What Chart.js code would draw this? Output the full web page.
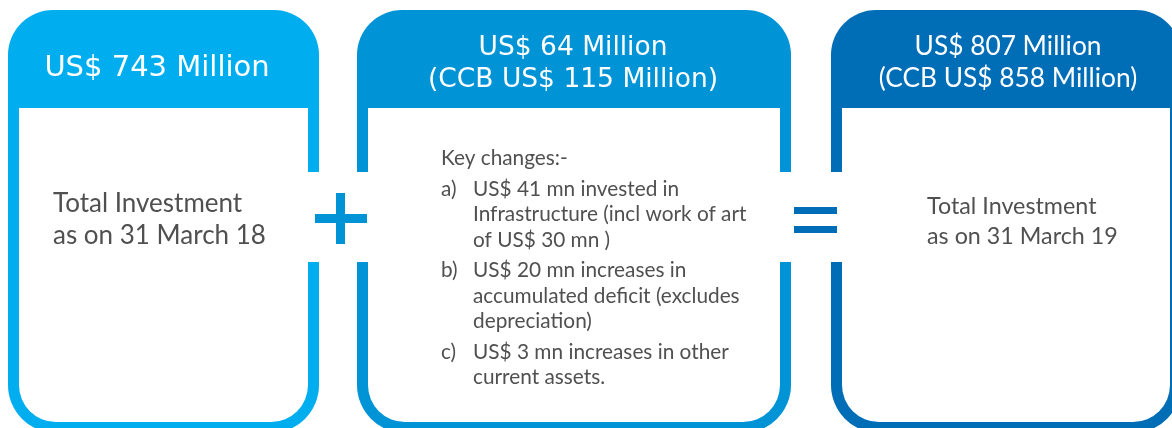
<!DOCTYPE html>
<html>
<head>
<meta charset="utf-8">
<script src="https://cdn.jsdelivr.net/npm/chart.js@4"></script>
<style>
html,body{margin:0;padding:0;background:#fff;}
#wrap{width:1172px;height:428px;position:relative;}
</style>
</head>
<body>
<div id="wrap"><canvas id="c" width="1172" height="428"></canvas></div>
<script>
// ---- data ----
const categories = ['Total Investment as on 31 March 18', 'Movement during the year', 'Total Investment as on 31 March 19'];
const investmentUSDmn = [743, 64, 807];
const ccbUSDmn = [null, 115, 858];
const bodyLines1 = ['Total Investment', 'as on 31 March 18'];
const bodyLines3 = ['Total Investment', 'as on 31 March 19'];
const keyChangesTitle = 'Key changes:-';
const keyChangeLabels = ['a)', 'b)', 'c)'];
const keyChangeLines = [
  ['US$ 41 mn invested in', 'Infrastructure (incl work of art', 'of US$ 30 mn )'],
  ['US$ 20 mn increases in', 'accumulated deficit (excludes', 'depreciation)'],
  ['US$ 3 mn increases in other', 'current assets.']
];

// ---- layout / style ----
const colors = ['#00AEEF', '#0094D6', '#006DB7'];
const textGray = '#505050';
const boxes = [
  {x0: 8, x1: 319},
  {x0: 357, x1: 791},
  {x0: 831, x1: 1181}
];

function headerText(i) {
  const lines = ['US$ ' + investmentUSDmn[i] + ' Million'];
  if (ccbUSDmn[i] != null) lines.push('(CCB US$ ' + ccbUSDmn[i] + ' Million)');
  return lines;
}

function roundPath(ctx, x, y, w, h, rt, rb) {
  ctx.beginPath();
  ctx.moveTo(x + rt, y);
  ctx.lineTo(x + w - rt, y);
  ctx.arcTo(x + w, y, x + w, y + rt, rt);
  ctx.lineTo(x + w, y + h - rb);
  ctx.arcTo(x + w, y + h, x + w - rb, y + h, rb);
  ctx.lineTo(x + rb, y + h);
  ctx.arcTo(x, y + h, x, y + h - rb, rb);
  ctx.lineTo(x, y + rt);
  ctx.arcTo(x, y, x + rt, y, rt);
  ctx.closePath();
}

const infographic = {
  id: 'infographic',
  afterDraw(chart) {
    const ctx = chart.ctx;
    ctx.save();
    const top = 10, bottom = 433, headerBottom = 108, border = 11;
    boxes.forEach((b, i) => {
      ctx.fillStyle = colors[i];
      roundPath(ctx, b.x0, top, b.x1 - b.x0, bottom - top, 45, 48);
      ctx.fill();
      ctx.fillStyle = '#ffffff';
      roundPath(ctx, b.x0 + border, headerBottom, b.x1 - b.x0 - 2 * border, 422 - headerBottom, 0, 37);
      ctx.fill();
    });

    // white gaps in borders around the operators
    ctx.fillStyle = '#ffffff';
    ctx.fillRect(304, 172, 68, 90);
    ctx.fillRect(776, 172, 70, 90);

    // headers
    ctx.fillStyle = '#ffffff';
    ctx.textAlign = 'center';
    ctx.textBaseline = 'alphabetic';
    ctx.font = '29px "DejaVu Sans"';
    ctx.fillText(headerText(0)[0], 157, 76);
    ctx.font = '26.5px "DejaVu Sans"';
    const h2 = headerText(1);
    ctx.fillText(h2[0], 573, 55);
    ctx.fillText(h2[1], 573, 87);
    ctx.font = '26.3px Lato';
    const h3 = headerText(2);
    ctx.fillText(h3[0], 1008, 55);
    ctx.fillText(h3[1], 1008, 87);

    // body texts
    ctx.fillStyle = textGray;
    ctx.textAlign = 'left';
    ctx.font = '26px Lato';
    ctx.fillText(bodyLines1[0], 53, 212);
    ctx.fillText(bodyLines1[1], 53, 244);
    ctx.font = '23.3px Lato';
    ctx.fillText(bodyLines3[0], 927, 214);
    ctx.fillText(bodyLines3[1], 927, 244);

    ctx.font = '20.8px Lato';
    ctx.fillText(keyChangesTitle, 441, 165);
    let y = 196;
    keyChangeLines.forEach((lines, k) => {
      ctx.fillText(keyChangeLabels[k], 441, y);
      lines.forEach((ln, j) => {
        ctx.fillText(ln, 473, y);
        if (j < lines.length - 1) y += 25.3;
      });
      y += 30.7;
    });

    // plus sign
    ctx.fillStyle = colors[1];
    ctx.fillRect(315, 214, 52, 9);
    ctx.fillRect(336, 193, 9, 51);
    // equals sign
    ctx.fillStyle = colors[2];
    ctx.fillRect(794, 207, 43, 7);
    ctx.fillRect(794, 226, 43, 7);
    ctx.restore();
  }
};

new Chart(document.getElementById('c'), {
  type: 'bar',
  data: {
    labels: categories,
    datasets: [{
      label: 'Investment (US$ mn)',
      data: investmentUSDmn,
      backgroundColor: 'rgba(0,0,0,0)',
      borderWidth: 0
    }]
  },
  options: {
    responsive: false,
    animation: false,
    devicePixelRatio: 1,
    layout: {padding: 0},
    plugins: {legend: {display: false}, tooltip: {enabled: false}, title: {display: false}},
    scales: {x: {display: false}, y: {display: false, beginAtZero: true}}
  },
  plugins: [infographic]
});
</script>
</body>
</html>
